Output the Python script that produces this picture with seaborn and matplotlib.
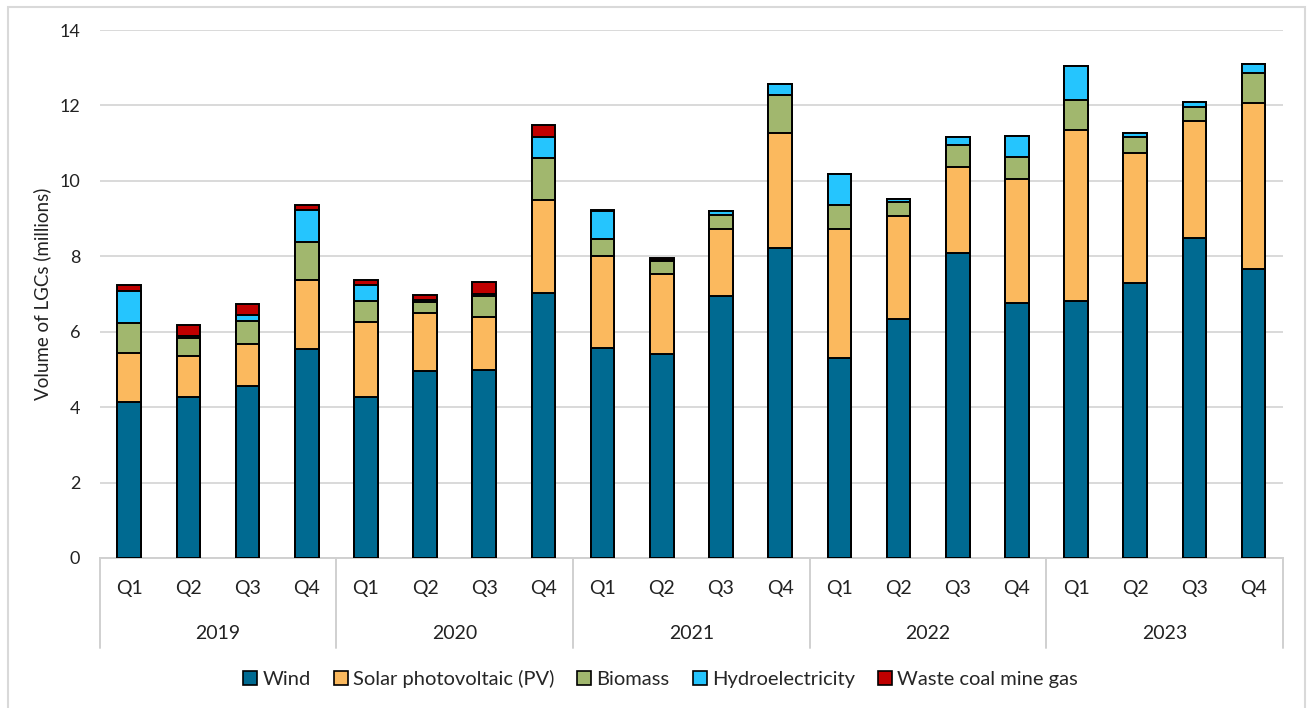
import matplotlib
matplotlib.use("Agg")
import matplotlib.pyplot as plt
from matplotlib.patches import Patch, Rectangle
import seaborn as sns
import pandas as pd
import numpy as np

years = ["2019", "2020", "2021", "2022", "2023"]
quarters = ["Q1", "Q2", "Q3", "Q4"]

wind = [4.13, 4.27, 4.57, 5.53, 4.27, 4.96, 4.99, 7.03, 5.58, 5.41,
        6.96, 8.23, 5.29, 6.34, 8.08, 6.76, 6.82, 7.30, 8.49, 7.66]
solar = [1.31, 1.08, 1.11, 1.83, 2.00, 1.53, 1.40, 2.46, 2.43, 2.13,
         1.76, 3.05, 3.44, 2.73, 2.29, 3.28, 4.52, 3.45, 3.09, 4.41]
biomass = [0.80, 0.47, 0.61, 1.01, 0.55, 0.30, 0.57, 1.11, 0.44, 0.34,
           0.37, 0.99, 0.63, 0.37, 0.59, 0.59, 0.81, 0.41, 0.38, 0.79]
hydro = [0.84, 0.06, 0.16, 0.86, 0.41, 0.04, 0.05, 0.55, 0.76, 0.03,
         0.11, 0.29, 0.81, 0.07, 0.20, 0.56, 0.89, 0.11, 0.13, 0.23]
waste = [0.16, 0.30, 0.28, 0.13, 0.15, 0.14, 0.31, 0.32, 0.03, 0.04,
         0.01, 0.00, 0.00, 0.00, 0.00, 0.00, 0.00, 0.00, 0.00, 0.00]

series_names = ["Wind", "Solar photovoltaic (PV)", "Biomass", "Hydroelectricity", "Waste coal mine gas"]
series_vals = [wind, solar, biomass, hydro, waste]
colors = ["#006A91", "#FBB95E", "#A1B76E", "#25C5FE", "#C00000"]

sns.set_theme(style="white")
plt.rcParams["font.family"] = ["Lato", "DejaVu Sans"]

cats = [f"{y} {q}" for y in years for q in quarters]
cum = np.zeros(len(cats))
cums = []
for v in series_vals:
    cum = cum + np.array(v)
    cums.append(cum.copy())

fig = plt.figure(figsize=(13.08, 7.08), dpi=100)
ax = fig.add_axes([0.0762, 0.2119, 0.9048, 0.7457])

for i in range(len(series_vals) - 1, -1, -1):
    d = pd.DataFrame({"cat": cats, "val": cums[i]})
    sns.barplot(data=d, x="cat", y="val", order=cats, color=colors[i],
                width=0.4, edgecolor="black", linewidth=1.4, saturation=1,
                ax=ax, zorder=3)

ax.set_ylim(0, 14)
ax.set_xlim(-0.5, len(cats) - 0.5)
ax.set_yticks(range(0, 15, 2))
ax.yaxis.grid(True, color="#d9d9d9", linewidth=1.4, zorder=0)
ax.set_axisbelow(True)
for s in ["top", "right", "left"]:
    ax.spines[s].set_visible(False)
ax.spines["bottom"].set_color("#d0d0d0")
ax.spines["bottom"].set_linewidth(1.4)
ax.tick_params(axis="y", length=0, pad=14, labelsize=13, labelcolor="#222222")
ax.tick_params(axis="x", length=0)
ax.set_xticks([])
ax.set_xlabel("")
ax.set_ylabel("Volume of LGCs (millions)", fontsize=13.5, color="#222222", labelpad=6)

trans = ax.get_xaxis_transform()
for i, c in enumerate(cats):
    ax.text(i, -0.058, quarters[i % 4], transform=trans, ha="center", va="center",
            fontsize=14, color="#222222")
for j, y in enumerate(years):
    ax.text(j * 4 + 1.5, -0.143, y, transform=trans, ha="center", va="center",
            fontsize=14, color="#222222")
for b in range(len(years) + 1):
    ax.plot([b * 4 - 0.5, b * 4 - 0.5], [0, -0.17], transform=trans,
            color="#d0d0d0", linewidth=1.4, clip_on=False)

handles = [Patch(facecolor=c, edgecolor="black", linewidth=1.2) for c in colors]
fig.legend(handles, series_names, loc="center", bbox_to_anchor=(0.505, 0.041),
           ncol=5, frameon=False, fontsize=14.5, handlelength=0.7, handleheight=0.7,
           handletextpad=0.25, columnspacing=1.15)

fig.patches.append(Rectangle((8 / 1308, -0.02), 1297 / 1308, 1.02 - 7 / 708,
                             transform=fig.transFigure, fill=False,
                             edgecolor="#d9d9d9", linewidth=1.5))

fig.savefig("out.png", dpi=100)
